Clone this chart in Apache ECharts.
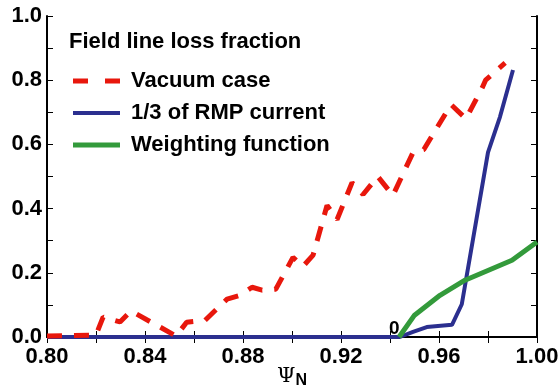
<!DOCTYPE html>
<html>
<head>
<meta charset="utf-8">
<script src="https://cdn.jsdelivr.net/npm/echarts@6/dist/echarts.min.js"></script>
<style>
  html, body { margin: 0; padding: 0; background: #fff; }
  #lossChart { width: 559px; height: 391px; }
</style>
</head>
<body>
<div id="lossChart"></div>
<script>
// 数据：横轴 Ψ_N，纵轴 损失比例
const seriesNames = ['Vacuum case', '1/3 of RMP current', 'Weighting function']

const vacuumX = [0.800, 0.820, 0.8229, 0.8298, 0.8343, 0.8527, 0.857, 0.8645, 0.8735, 0.8788, 0.8837, 0.8878, 0.8934,
  0.9004, 0.9045, 0.9086, 0.9143, 0.9184, 0.9245, 0.929, 0.935, 0.9412, 0.9494, 0.9538, 0.9649, 0.971, 0.9776, 0.979, 0.987]
const vacuumY = [0.003, 0.006, 0.062, 0.047, 0.081, 0.003, 0.046, 0.052, 0.118, 0.130, 0.155, 0.146, 0.149,
  0.248, 0.220, 0.255, 0.410, 0.366, 0.481, 0.444, 0.500, 0.441, 0.575, 0.584, 0.724, 0.680, 0.776, 0.800, 0.854]

const rmpX = [0.800, 0.944, 0.9494, 0.955, 0.9653, 0.9693, 0.980, 0.9849, 0.9902]
const rmpY = [0.0, 0.0, 0.016, 0.031, 0.038, 0.102, 0.575, 0.686, 0.832]

const weightX = [0.9437, 0.950, 0.9604, 0.9706, 0.9898, 1.000]
const weightY = [0.0, 0.068, 0.130, 0.177, 0.239, 0.296]

const xTicks = ['0.80', '0.84', '0.88', '0.92', '0.96', '1.00']
const yTicks = ['0.0', '0.2', '0.4', '0.6', '0.8', '1.0']

function pairs(xs, ys) {
  return xs.map((x, i) => [x, ys[i]])
}

let chart = echarts.init(document.getElementById('lossChart'))

const labelFont = { fontFamily: 'Liberation Sans', fontWeight: 'bold', fontSize: 22, color: '#000' }
const colors = ['#e8170c', '#2b2f8f', '#339a3b']

chart.setOption({
  animation: false,
  title: {
    text: 'Field line loss fraction',
    left: 64,
    top: 26,
    textStyle: { ...labelFont, lineHeight: 22 }
  },
  // 图例图标用路径画成线段（虚线两段）
  legend: {
    orient: 'vertical',
    left: 73,
    top: 70,
    padding: 0,
    itemWidth: 47,
    itemHeight: 5,
    itemGap: 10,
    textStyle: { ...labelFont, lineHeight: 22, padding: [0, 0, 0, 6] },
    data: [
      { name: seriesNames[0], icon: 'path://M0,0 H15 V5 H0 Z M32,0 H47 V5 H32 Z' },
      { name: seriesNames[1], icon: 'path://M0,0 H47 V4 H0 Z' },
      { name: seriesNames[2], icon: 'path://M0,0 H47 V5 H0 Z' }
    ]
  },
  grid: {
    left: 47,
    right: 22,
    top: 16,
    bottom: 54,
    outerBoundsMode: 'none'
  },
  xAxis: [
    {
      type: 'value',
      min: 0.8,
      max: 1.0,
      interval: 0.04,
      axisLine: { lineStyle: { color: '#000', width: 2 } },
      axisTick: { inside: true, length: 6, lineStyle: { color: '#000' } },
      minorTick: { show: true, splitNumber: 2, length: 6, lineStyle: { color: '#000' } },
      splitLine: { show: false },
      axisLabel: {
        ...labelFont,
        margin: 9,
        formatter: (v) => xTicks[Math.round((v - 0.8) / 0.04)]
      },
      name: '{psi|Ψ}{sub|N}',
      nameLocation: 'middle',
      nameGap: 27,
      nameMoveOverlap: false,
      nameTextStyle: {
        rich: {
          psi: { fontFamily: 'DejaVu Serif', fontSize: 21, color: '#000' },
          sub: { fontFamily: 'Liberation Sans', fontWeight: 'bold', fontSize: 16, color: '#000', padding: [9, 0, 0, 0] }
        }
      }
    },
    {
      type: 'value',
      position: 'top',
      min: 0.8,
      max: 1.0,
      interval: 0.02,
      axisLine: { lineStyle: { color: '#000', width: 2 } },
      axisTick: { inside: true, length: 6, lineStyle: { color: '#000' } },
      axisLabel: { show: false },
      splitLine: { show: false }
    }
  ],
  yAxis: [
    {
      type: 'value',
      min: 0,
      max: 1,
      interval: 0.2,
      axisLine: { show: true, lineStyle: { color: '#000', width: 2 } },
      axisTick: { show: true, inside: true, length: 6, lineStyle: { color: '#000' } },
      minorTick: { show: true, splitNumber: 2, length: 6, lineStyle: { color: '#000' } },
      splitLine: { show: false },
      axisLabel: {
        ...labelFont,
        margin: 5,
        formatter: (v) => yTicks[Math.round(v / 0.2)]
      }
    },
    {
      type: 'value',
      position: 'right',
      min: 0,
      max: 1,
      interval: 0.1,
      axisLine: { show: true, lineStyle: { color: '#000', width: 2 } },
      axisTick: { show: true, inside: true, length: 6, lineStyle: { color: '#000' } },
      axisLabel: { show: false },
      splitLine: { show: false }
    }
  ],
  graphic: [
    {
      type: 'text',
      left: 389,
      top: 319,
      style: { text: '0', font: 'bold 19px "Liberation Sans"', fill: '#000' }
    }
  ],
  series: [
    {
      name: seriesNames[0],
      type: 'line',
      symbol: 'none',
      clip: false,
      z: 3,
      lineStyle: { color: colors[0], width: 5, type: [15, 12] },
      itemStyle: { color: colors[0] },
      data: pairs(vacuumX, vacuumY)
    },
    {
      name: seriesNames[1],
      type: 'line',
      symbol: 'none',
      clip: false,
      z: 2,
      lineStyle: { color: colors[1], width: 4 },
      itemStyle: { color: colors[1] },
      data: pairs(rmpX, rmpY)
    },
    {
      name: seriesNames[2],
      type: 'line',
      symbol: 'none',
      clip: false,
      z: 4,
      lineStyle: { color: colors[2], width: 5 },
      itemStyle: { color: colors[2] },
      data: pairs(weightX, weightY)
    }
  ]
})
</script>
</body>
</html>
